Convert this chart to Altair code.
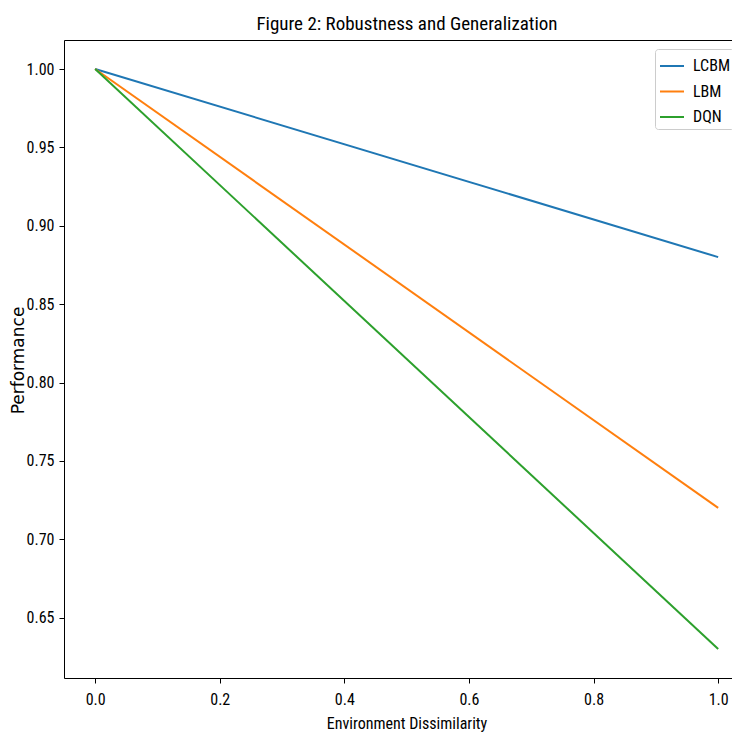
import altair as alt
import pandas as pd

# Data (straight lines from x=0 to x=1)
dissimilarity = [0.0, 1.0]
lcbm = [1.00, 0.88]
lbm = [1.00, 0.72]
dqn = [1.00, 0.63]
series_names = ["LCBM", "LBM", "DQN"]
series_colors = ["#1f77b4", "#ff7f0e", "#2ca02c"]
x_ticks = [0.0, 0.2, 0.4, 0.6, 0.8, 1.0]
y_ticks = [0.65, 0.70, 0.75, 0.80, 0.85, 0.90, 0.95, 1.00]

rows = []
for name, vals in zip(series_names, [lcbm, lbm, dqn]):
    for xv, yv in zip(dissimilarity, vals):
        rows.append({"x": xv, "y": yv, "Method": name})
df = pd.DataFrame(rows)

FONT = "Roboto Condensed"
W, H = 668, 638

xscale = alt.Scale(domain=[-0.05, 1.0222], nice=False, zero=False)
yscale = alt.Scale(domain=[0.6115, 1.0185], nice=False, zero=False)

lines = alt.Chart(df).mark_line(strokeWidth=2, clip=True).encode(
    x=alt.X("x:Q", scale=xscale,
            axis=alt.Axis(title="Environment Dissimilarity", values=x_ticks, format=".1f",
                          grid=False, tickSize=5, tickColor="black", domainColor="black",
                          labelColor="black", labelFont=FONT, labelFontSize=16, labelPadding=8,
                          titleFont=FONT, titleFontSize=16, titleFontWeight="normal",
                          titleColor="black", titleX=342.5, titleY=45, titleAlign="center",
                          titleBaseline="middle")),
    y=alt.Y("y:Q", scale=yscale,
            axis=alt.Axis(title="Performance", values=y_ticks, format=".2f",
                          grid=False, tickSize=5, tickColor="black", domainColor="black",
                          labelColor="black", labelFont=FONT, labelFontSize=16, labelPadding=5,
                          titleFont="DejaVu Sans", titleFontSize=17, titleFontWeight="normal",
                          titleColor="black", titleX=-46, titleY=320, titleAlign="center",
                          titleBaseline="middle", titleAngle=270)),
    color=alt.Color("Method:N", sort=series_names,
                    scale=alt.Scale(domain=series_names, range=series_colors),
                    legend=alt.Legend(title=None, orient="none", legendX=591, legendY=9,
                                      symbolType="stroke", symbolSize=576, symbolStrokeWidth=2,
                                      labelFont=FONT, labelFontSize=16, labelColor="black",
                                      labelOffset=8, rowPadding=4.5, padding=4,
                                      fillColor="white", strokeColor="#cccccc",
                                      cornerRadius=3)),
)

top_border = alt.Chart(df).mark_line(opacity=0).encode(
    x=alt.X("x:Q", scale=xscale,
            axis=alt.Axis(orient="top", title=None, labels=False, ticks=False, grid=False,
                          domainColor="black")),
)

chart = alt.layer(lines, top_border).resolve_axis(x="independent").properties(
    width=W, height=H,
    title=alt.TitleParams("Figure 2: Robustness and Generalization", font=FONT, fontSize=19,
                          fontWeight="normal", color="black", dx=9, offset=6),
    autosize=alt.AutoSizeParams(type="none"),
    padding={"left": 56, "top": 32, "right": 0, "bottom": 55},
).configure_view(stroke=None).configure(background="white")

chart.save("out.html", embed_options={"renderer": "svg", "actions": False})
